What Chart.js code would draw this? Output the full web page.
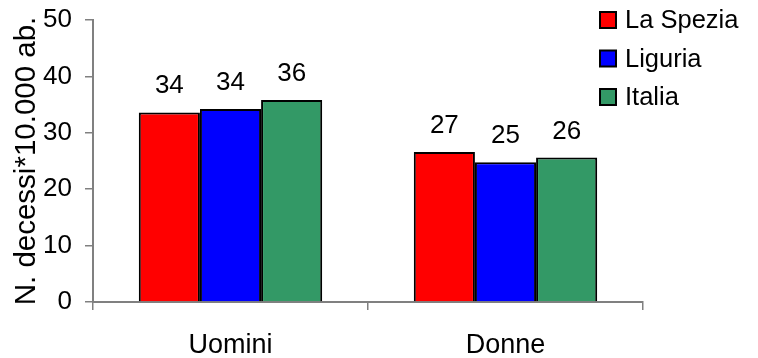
<!DOCTYPE html>
<html>
<head>
<meta charset="utf-8">
<script src="https://cdn.jsdelivr.net/npm/chart.js@4/dist/chart.umd.min.js"></script>
<style>
  html, body { margin: 0; padding: 0; background: #ffffff; }
  #wrap { width: 758px; height: 358px; position: relative; }
</style>
</head>
<body>
<div id="wrap"><canvas id="chart"></canvas></div>
<script>
// Mortality rate per 10,000 inhabitants, by sex
const categories = ['Uomini', 'Donne'];
const seriesNames = ['La Spezia', 'Liguria', 'Italia'];
const laSpezia = [33.6, 26.6];
const liguria = [34.2, 24.8];
const italia = [35.8, 25.6];
const yTicks = [0, 10, 20, 30, 40, 50];
const seriesColors = ['#FF0000', '#0000FF', '#339966'];

const FONT = '"Liberation Sans", Arial, sans-serif';

// Value labels above each bar
const valueLabels = {
  id: 'valueLabels',
  afterDatasetsDraw(chart) {
    const ctx = chart.ctx;
    ctx.save();
    ctx.font = '26px ' + FONT;
    ctx.fillStyle = '#000000';
    ctx.textAlign = 'center';
    ctx.textBaseline = 'alphabetic';
    chart.data.datasets.forEach((ds, i) => {
      chart.getDatasetMeta(i).data.forEach((bar, j) => {
        ctx.fillText(String(Math.round(ds.data[j])), bar.x, bar.y - 19);
      });
    });
    ctx.restore();
  }
};

// Legend with bordered swatches in the upper right corner
const sideLegend = {
  id: 'sideLegend',
  afterDraw(chart) {
    const ctx = chart.ctx;
    const x0 = chart.width - 158;
    const y0 = 20;
    const step = 38.5;
    ctx.save();
    ctx.font = '25.5px ' + FONT;
    ctx.textAlign = 'left';
    ctx.textBaseline = 'middle';
    chart.data.datasets.forEach((ds, i) => {
      const cy = y0 + i * step;
      ctx.fillStyle = ds.backgroundColor;
      ctx.fillRect(x0, cy - 8, 16, 16);
      ctx.lineWidth = 2;
      ctx.strokeStyle = '#000000';
      ctx.strokeRect(x0, cy - 8, 16, 16);
      ctx.fillStyle = '#000000';
      ctx.fillText(ds.label, x0 + 25, cy + 1);
    });
    ctx.restore();
  }
};

const datasets = [laSpezia, liguria, italia].map((vals, i) => ({
  label: seriesNames[i],
  data: vals,
  backgroundColor: seriesColors[i],
  borderColor: '#000000',
  borderWidth: 2,
  categoryPercentage: 0.667,
  barPercentage: 1.0
}));

new Chart(document.getElementById('chart'), {
  type: 'bar',
  data: { labels: categories, datasets },
  plugins: [valueLabels, sideLegend],
  options: {
    responsive: true,
    maintainAspectRatio: false,
    animation: false,
    events: [],
    layout: { padding: { left: 12, right: 115, top: 20, bottom: 0 } },
    plugins: {
      legend: { display: false },
      tooltip: { enabled: false }
    },
    scales: {
      x: {
        offset: true,
        afterFit(scale) {
          scale.height = 56;
        },
        grid: {
          offset: true,
          drawOnChartArea: false,
          drawTicks: true,
          tickLength: 8,
          color: '#808080',
          lineWidth: 1.5
        },
        border: { color: '#808080', width: 2 },
        ticks: {
          color: '#000000',
          font: { family: FONT, size: 27 },
          padding: 19
        }
      },
      y: {
        min: 0,
        max: 50,
        afterBuildTicks(scale) {
          scale.ticks = yTicks.map(v => ({ value: v }));
        },
        afterFit(scale) {
          scale.width = 81;
          scale.paddingTop = 0;
          scale.paddingBottom = 0;
        },
        grid: {
          drawOnChartArea: false,
          drawTicks: true,
          tickLength: 8,
          color: '#808080',
          lineWidth: 1.5
        },
        border: { color: '#808080', width: 2 },
        ticks: {
          color: '#000000',
          font: { family: FONT, size: 26 },
          padding: 13
        },
        title: {
          display: true,
          text: 'N. decessi*10.000 ab.',
          color: '#000000',
          font: { family: FONT, size: 29.5, lineHeight: 1 },
          padding: { top: 0, bottom: 0 }
        }
      }
    }
  }
});
</script>
</body>
</html>
